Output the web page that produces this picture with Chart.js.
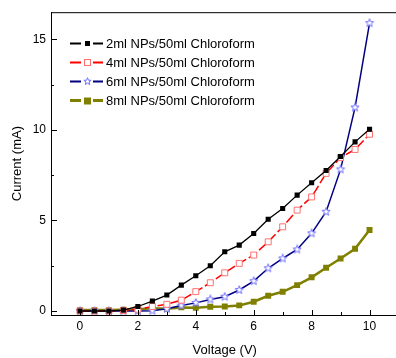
<!DOCTYPE html>
<html>
<head>
<meta charset="utf-8">
<script src="https://cdn.jsdelivr.net/npm/chart.js@4.4.0/dist/chart.umd.min.js"></script>
<style>
html, body { margin: 0; padding: 0; background: #fff; overflow: hidden; }
#wrap { width: 404px; height: 358px; }
</style>
</head>
<body>
<div id="wrap"><canvas id="myChart" width="404" height="358"></canvas></div>
<script>
// data
var voltage = [0, 0.5, 1, 1.5, 2, 2.5, 3, 3.5, 4, 4.5, 5, 5.5, 6, 6.5, 7, 7.5, 8, 8.5, 9, 9.5, 10];
var current2ml = [0, 0, 0, 0.05, 0.25, 0.55, 0.88, 1.43, 1.95, 2.5, 3.27, 3.64, 4.28, 5.07, 5.66, 6.4, 7.08, 7.76, 8.53, 9.34, 10.04];
var current4ml = [0, 0, 0, 0.02, 0.1, 0.25, 0.37, 0.6, 1.07, 1.56, 2.11, 2.63, 3.09, 3.82, 4.65, 5.57, 6.3, 7.6, 8.48, 8.92, 9.76];
var current6ml = [0, 0, 0, 0, 0, 0.02, 0.12, 0.3, 0.45, 0.64, 0.79, 1.16, 1.65, 2.36, 2.9, 3.4, 4.29, 5.48, 7.82, 11.24, 15.9];
var current8ml = [0.05, 0.05, 0.05, 0.07, 0.1, 0.15, 0.12, 0.2, 0.18, 0.24, 0.25, 0.31, 0.51, 0.84, 1.06, 1.43, 1.86, 2.39, 2.9, 3.44, 4.47];
var seriesLabels = ['2ml NPs/50ml Chloroform', '4ml NPs/50ml Chloroform', '6ml NPs/50ml Chloroform', '8ml NPs/50ml Chloroform'];

var xMajor = [0, 2, 4, 6, 8, 10];
var xMinor = [1, 3, 5, 7, 9];
var yMajor = [0, 5, 10, 15];
var yMinor = [2.5, 7.5, 12.5];

var FONT = '"Liberation Sans", Arial, sans-serif';

function toPoints(ys) {
  return voltage.map(function (v, i) { return {x: v, y: ys[i]}; });
}

// open star marker (5 points)
function makeStar(size, stroke) {
  var c = document.createElement('canvas');
  c.width = size; c.height = size;
  var g = c.getContext('2d');
  var cx = size / 2, cy = size / 2, ro = size / 2 - 0.7, ri = ro * 0.42;
  g.beginPath();
  for (var k = 0; k < 10; k++) {
    var r = k % 2 ? ri : ro;
    var a = -Math.PI / 2 + k * Math.PI / 5;
    var px = cx + r * Math.cos(a), py = cy + r * Math.sin(a);
    if (k === 0) g.moveTo(px, py); else g.lineTo(px, py);
  }
  g.closePath();
  g.fillStyle = '#fff';
  g.fill();
  g.strokeStyle = stroke;
  g.lineWidth = 1;
  g.stroke();
  return c;
}
var starMark = makeStar(10, '#6f6fff');

//frame and inward ticks
var frameTicks = {
  id: 'frameTicks',
  afterDatasetsDraw: function (chart) {
    var ctx = chart.ctx, area = chart.chartArea;
    var xs = chart.scales.x, ys = chart.scales.y;
    ctx.save();
    ctx.strokeStyle = '#000';
    ctx.lineWidth = 1;
    ctx.beginPath();
    ctx.moveTo(area.left, area.top + 0.5);
    ctx.lineTo(area.right + 5, area.top + 0.5);
    xMajor.forEach(function (v) {
      var p = Math.round(xs.getPixelForValue(v)) + 0.5;
      ctx.moveTo(p, area.bottom); ctx.lineTo(p, area.bottom - 5);
    });
    xMinor.forEach(function (v) {
      var p = Math.round(xs.getPixelForValue(v)) + 0.5;
      ctx.moveTo(p, area.bottom); ctx.lineTo(p, area.bottom - 3);
    });
    yMajor.forEach(function (v) {
      var p = Math.round(ys.getPixelForValue(v)) + 0.5;
      ctx.moveTo(area.left, p); ctx.lineTo(area.left + 6, p);
    });
    yMinor.forEach(function (v) {
      var p = Math.round(ys.getPixelForValue(v)) + 0.5;
      ctx.moveTo(area.left, p); ctx.lineTo(area.left + 3, p);
    });
    ctx.stroke();
    ctx.restore();
  }
};

//legend inside the plot
var legendBox = {
  id: 'legendBox',
  afterDraw: function (chart) {
    var ctx = chart.ctx;
    ctx.save();
    ctx.font = '13px ' + FONT;
    ctx.textBaseline = 'middle';
    seriesLabels.forEach(function (label, i) {
      var ds = chart.data.datasets[i];
      var y = 43.5 + i * 19;
      ctx.strokeStyle = ds.borderColor;
      ctx.lineWidth = i === 3 ? 3 : 2;
      ctx.beginPath();
      ctx.moveTo(70, y); ctx.lineTo(81, y);
      ctx.moveTo(93, y); ctx.lineTo(103, y);
      ctx.stroke();
      if (i === 0) {
        ctx.fillStyle = '#000';
        ctx.fillRect(85, y - 2.5, 5, 5);
      } else if (i === 1) {
        ctx.strokeStyle = '#ff7070';
        ctx.lineWidth = 1;
        ctx.strokeRect(84.5, y - 3, 6, 6);
      } else if (i === 2) {
        ctx.drawImage(makeStar(9, '#6f6fff'), 83, y - 4.5);
      } else {
        ctx.fillStyle = '#808000';
        ctx.fillRect(84, y - 3, 7, 7);
      }
      ctx.fillStyle = '#000';
      ctx.fillText(label, 106, y + 0.5);
    });
    ctx.restore();
  }
};

var ctx = document.getElementById('myChart');
var myChart = new Chart(ctx, {
  type: 'line',
  data: {
    datasets: [
      {
        label: seriesLabels[0],
        data: toPoints(current2ml),
        borderColor: '#000000',
        backgroundColor: '#000000',
        borderWidth: 1.3,
        pointStyle: 'rect',
        pointRadius: 3.6,
        pointBorderWidth: 0,
        pointBackgroundColor: '#000000',
        tension: 0
      },
      {
        label: seriesLabels[1],
        data: toPoints(current4ml),
        borderColor: '#ff0000',
        backgroundColor: '#ff0000',
        borderWidth: 1.5,
        borderDash: [10, 3],
        pointStyle: 'rect',
        pointRadius: 4.2,
        pointBorderWidth: 1,
        pointBorderColor: '#ff7070',
        pointBackgroundColor: '#ffffff',
        tension: 0
      },
      {
        label: seriesLabels[2],
        data: toPoints(current6ml),
        borderColor: '#000080',
        backgroundColor: '#000080',
        borderWidth: 1.5,
        pointStyle: starMark,
        tension: 0
      },
      {
        label: seriesLabels[3],
        data: toPoints(current8ml),
        borderColor: '#808000',
        backgroundColor: '#808000',
        borderWidth: 2.5,
        pointStyle: 'rect',
        pointRadius: 4.2,
        pointBorderWidth: 0,
        pointBackgroundColor: '#808000',
        tension: 0
      }
    ]
  },
  options: {
    responsive: false,
    animation: false,
    layout: { padding: { top: 12, right: 4, bottom: 0, left: 0 } },
    plugins: {
      legend: { display: false },
      tooltip: { enabled: false }
    },
    scales: {
      x: {
        type: 'linear',
        min: -1,
        max: 11,
        afterBuildTicks: function (axis) { axis.ticks = xMajor.map(function (v) { return {value: v}; }); },
        afterFit: function (scale) { scale.height = 43; },
        grid: { display: false, drawTicks: false },
        border: { display: true, color: '#000', width: 1 },
        ticks: { padding: 4, color: '#000', font: { family: FONT, size: 12 }, maxRotation: 0 },
        title: { display: true, text: 'Voltage (V)', color: '#000', font: { family: FONT, size: 13 }, padding: { top: 9, bottom: 0 } }
      },
      y: {
        min: -0.22,
        max: 16.5,
        afterBuildTicks: function (axis) { axis.ticks = yMajor.map(function (v) { return {value: v}; }); },
        afterFit: function (scale) { scale.width = 51; },
        grid: { display: false, drawTicks: false },
        border: { display: true, color: '#000', width: 1 },
        ticks: { padding: 5, color: '#000', font: { family: FONT, size: 12 } },
        title: { display: true, text: 'Current (mA)', color: '#000', font: { family: FONT, size: 13 }, padding: { top: 10, bottom: 0 } }
      }
    }
  },
  plugins: [frameTicks, legendBox]
});
</script>
</body>
</html>
